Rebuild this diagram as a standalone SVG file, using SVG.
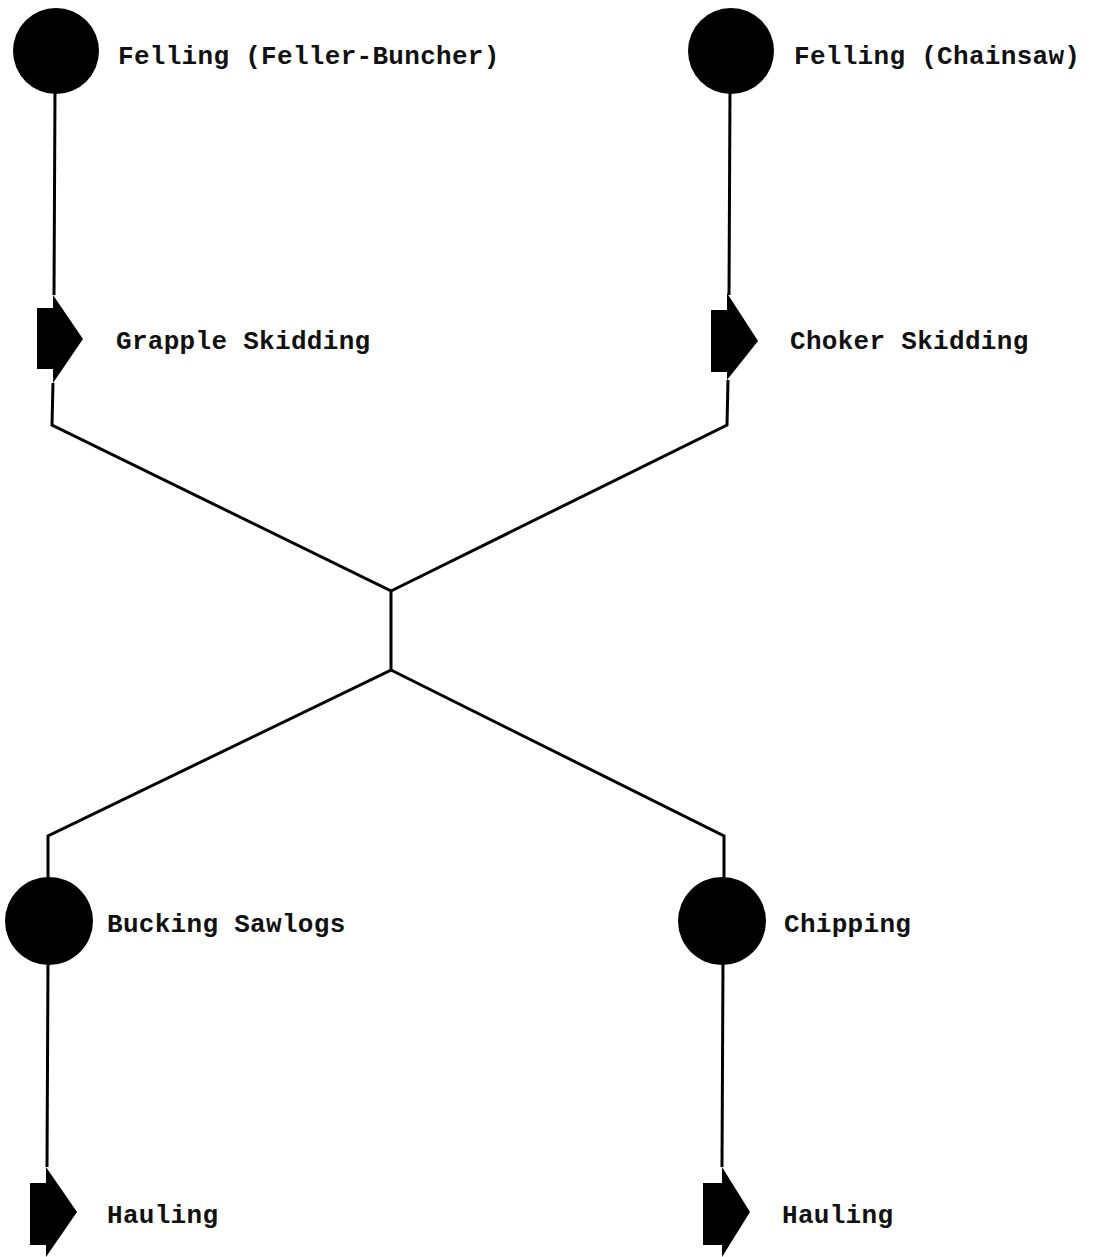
<svg xmlns="http://www.w3.org/2000/svg" width="1095" height="1257" viewBox="0 0 1095 1257">
  <style>
    .bg { fill: #ffffff; }
    .node { fill: #000000; }
    .edge { fill: none; stroke: #000000; stroke-width: 3; stroke-linejoin: miter; }
    .label { font-family: "Liberation Mono", "DejaVu Sans Mono", monospace; font-size: 26px; font-weight: bold; letter-spacing: 0.3px; fill: #111111; }
  </style>
  <rect class="bg" x="0" y="0" width="1095" height="1257"/>

  <!-- connectors -->
  <g id="connectors">
    <polyline class="edge" points="55,90 54,295"/>
    <polyline class="edge" points="53,383 52,425 391,591 391,670 48,836 48,880"/>
    <polyline class="edge" points="730,90 729,295"/>
    <polyline class="edge" points="728,380 727,425 391,591"/>
    <polyline class="edge" points="391,670 724,836 724,880"/>
    <polyline class="edge" points="48,960 47,1167"/>
    <polyline class="edge" points="723,960 722,1167"/>
  </g>

  <!-- operations (circles) -->
  <g id="felling-feller-buncher">
    <circle class="node" cx="56" cy="51" r="43"/>
    <text class="label" x="118" y="64">Felling (Feller-Buncher)</text>
  </g>
  <g id="felling-chainsaw">
    <circle class="node" cx="731" cy="51" r="43"/>
    <text class="label" x="794" y="64">Felling (Chainsaw)</text>
  </g>

  <!-- transport steps (flags) -->
  <g id="grapple-skidding">
    <rect class="node" x="37" y="308" width="17" height="61"/>
    <polygon class="node" points="53,295 83,339 53,383"/>
    <text class="label" x="116" y="349">Grapple Skidding</text>
  </g>
  <g id="choker-skidding">
    <rect class="node" x="711" y="310" width="17" height="62"/>
    <polygon class="node" points="727,293 758,341 727,380"/>
    <text class="label" x="790" y="349">Choker Skidding</text>
  </g>

  <g id="bucking-sawlogs">
    <circle class="node" cx="49" cy="921" r="44"/>
    <text class="label" x="107" y="932">Bucking Sawlogs</text>
  </g>
  <g id="chipping">
    <circle class="node" cx="722" cy="921" r="44"/>
    <text class="label" x="784" y="932">Chipping</text>
  </g>

  <g id="hauling-sawlogs">
    <rect class="node" x="30" y="1183" width="17" height="62"/>
    <polygon class="node" points="46,1167 77,1212 46,1257"/>
    <text class="label" x="107" y="1223">Hauling</text>
  </g>
  <g id="hauling-chips">
    <rect class="node" x="703" y="1183" width="20" height="62"/>
    <polygon class="node" points="722,1167 750,1212 722,1257"/>
    <text class="label" x="782" y="1223">Hauling</text>
  </g>
</svg>
